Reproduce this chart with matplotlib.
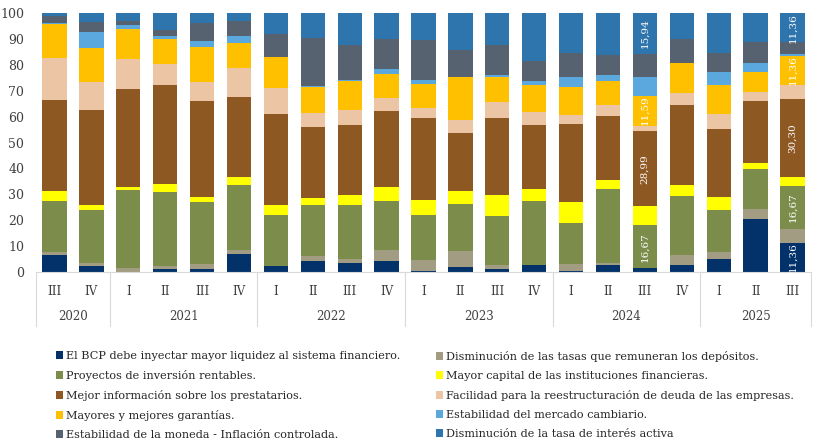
import matplotlib
matplotlib.use("Agg")
import matplotlib.pyplot as plt
from matplotlib.patches import Patch

plt.rcParams['font.family'] = ['DejaVu Serif']

# trimestres y años
trimestres = ['III', 'IV', 'I', 'II', 'III', 'IV', 'I', 'II', 'III', 'IV', 'I', 'II', 'III', 'IV',
              'I', 'II', 'III', 'IV', 'I', 'II', 'III']
anios = ['2020', '2021', '2022', '2023', '2024', '2025']
trim_por_anio = [2, 4, 4, 4, 4, 3]

# factores (de abajo hacia arriba)
bcp_liquidez = [6.4, 2.2, 0.0, 1.2, 1.2, 6.9, 2.2, 4.1, 3.5, 4.4, 0.3, 1.9, 1.3, 2.6, 0.3, 2.8, 1.45, 2.8, 5.1, 20.6, 11.36]
tasas_depositos = [1.5, 1.3, 1.5, 1.3, 1.9, 1.5, 0.3, 1.9, 1.7, 4.0, 4.5, 6.3, 1.3, 0.0, 2.6, 0.6, 0.0, 3.6, 2.8, 3.9, 5.30]
proyectos = [19.6, 20.5, 30.2, 28.4, 23.8, 25.0, 19.7, 19.9, 20.5, 19.2, 17.1, 18.0, 18.9, 25.0, 16.1, 28.7, 16.67, 22.8, 16.1, 15.1, 16.67]
capital = [3.6, 1.8, 1.3, 3.2, 1.9, 3.2, 3.6, 2.6, 4.0, 5.3, 5.8, 4.9, 8.1, 4.6, 8.0, 3.5, 7.25, 4.2, 5.1, 2.3, 3.20]
informacion = [35.4, 36.6, 37.7, 38.0, 37.1, 31.1, 35.3, 27.3, 27.0, 29.2, 31.8, 22.5, 29.9, 24.5, 30.2, 24.8, 28.99, 30.9, 26.1, 24.1, 30.30]
reestructuracion = [16.3, 11.1, 11.5, 8.2, 7.5, 10.9, 10.0, 5.5, 6.0, 5.1, 3.9, 4.9, 6.2, 5.1, 3.3, 4.1, 2.17, 5.0, 5.9, 3.6, 5.30]
garantias = [13.1, 13.1, 11.5, 9.8, 13.4, 10.0, 11.8, 10.3, 10.9, 9.3, 9.3, 16.7, 9.7, 10.3, 10.8, 9.3, 11.59, 11.3, 11.1, 7.6, 11.36]
cambiario = [0.4, 5.9, 1.8, 0.9, 2.3, 2.6, 0.0, 0.4, 0.5, 1.9, 1.3, 0.0, 0.5, 1.8, 4.0, 2.1, 7.25, 0.0, 5.1, 3.6, 0.60]
moneda = [2.5, 4.1, 1.3, 2.6, 7.1, 5.6, 8.8, 18.3, 13.6, 11.6, 15.6, 10.6, 11.7, 7.5, 9.3, 7.7, 8.70, 9.4, 7.3, 8.1, 4.55]
tasa_activa = [1.2, 3.5, 3.2, 6.4, 3.9, 3.2, 8.4, 9.7, 12.2, 10.0, 10.4, 14.2, 12.5, 18.7, 15.4, 16.3, 15.94, 9.9, 15.4, 11.2, 11.36]

series = [bcp_liquidez, tasas_depositos, proyectos, capital, informacion,
          reestructuracion, garantias, cambiario, moneda, tasa_activa]
nombres = ['El BCP debe inyectar mayor liquidez al sistema financiero.',
           'Disminución de las tasas que remuneran los depósitos.',
           'Proyectos de inversión rentables.',
           'Mayor capital de las instituciones financieras.',
           'Mejor información sobre los prestatarios.',
           'Facilidad para la reestructuración de deuda de las empresas.',
           'Mayores y mejores garantías.',
           'Estabilidad del mercado cambiario.',
           'Estabilidad de la moneda - Inflación controlada.',
           'Disminución de la tasa de interés activa']
colores = ['#03326a', '#a29c82', '#7b8c4b', '#ffff00', '#8e5822',
           '#ecc6a4', '#ffc000', '#5ba8de', '#576270', '#2e74ad']

# segmentos con etiqueta (barra, serie)
etiquetas = [(16, 2), (16, 4), (16, 6), (16, 9), (20, 0), (20, 2), (20, 4), (20, 6), (20, 9)]

fig = plt.figure(figsize=(8.22, 4.45), dpi=100)
ax = fig.add_axes([36 / 822, 1 - 272 / 445, 775 / 822, 259 / 445])

x = list(range(len(trimestres)))
base = [0.0] * len(x)
handles = []
for vals, col, nom in zip(series, colores, nombres):
    ax.bar(x, vals, bottom=base, width=0.66, color=col, linewidth=0)
    handles.append(Patch(facecolor=col, label=nom))
    base = [b + v for b, v in zip(base, vals)]

for i, s in etiquetas:
    abajo = sum(series[k][i] for k in range(s))
    v = series[s][i]
    ax.text(i, abajo + v / 2, f'{v:.2f}'.replace('.', ','), rotation=90,
            ha='center', va='center', color='white', fontsize=7.5)

ax.set_xlim(-0.5, len(x) - 0.5)
ax.set_ylim(0, 100)
ax.set_yticks(range(0, 101, 10))
ax.tick_params(axis='y', length=0, pad=8.5, labelsize=9, labelcolor='#404040')
ax.set_xticks(x)
ax.set_xticklabels(trimestres)
ax.tick_params(axis='x', length=0, pad=9.5, labelsize=8.5, labelcolor='#404040')
for sp in ['top', 'right', 'left']:
    ax.spines[sp].set_visible(False)
ax.spines['bottom'].set_color('#d9d9d9')

trans = ax.get_xaxis_transform()
ini = -0.5
ax.plot([ini, ini], [0, -0.21], transform=trans, clip_on=False, color='#d9d9d9', lw=0.8)
for anio, n in zip(anios, trim_por_anio):
    fin = ini + n
    ax.plot([fin, fin], [0, -0.21], transform=trans, clip_on=False, color='#d9d9d9', lw=0.8)
    ax.text((ini + fin) / 2, -0.172, anio, transform=trans, ha='center', va='center',
            fontsize=8.5, color='#404040')
    ini = fin

leg_kw = dict(frameon=False, fontsize=8.1, handlelength=0.65, handleheight=0.65,
              handletextpad=0.25, labelspacing=0.8, borderpad=0, borderaxespad=0,
              loc='upper left', labelcolor='#262626')
fig.legend(handles=handles[0::2], bbox_to_anchor=(56 / 822, 1 - 351 / 445), **leg_kw)
fig.legend(handles=handles[1::2], bbox_to_anchor=(436 / 822, 1 - 351 / 445), **leg_kw)

fig.savefig('out.png', dpi=100)
